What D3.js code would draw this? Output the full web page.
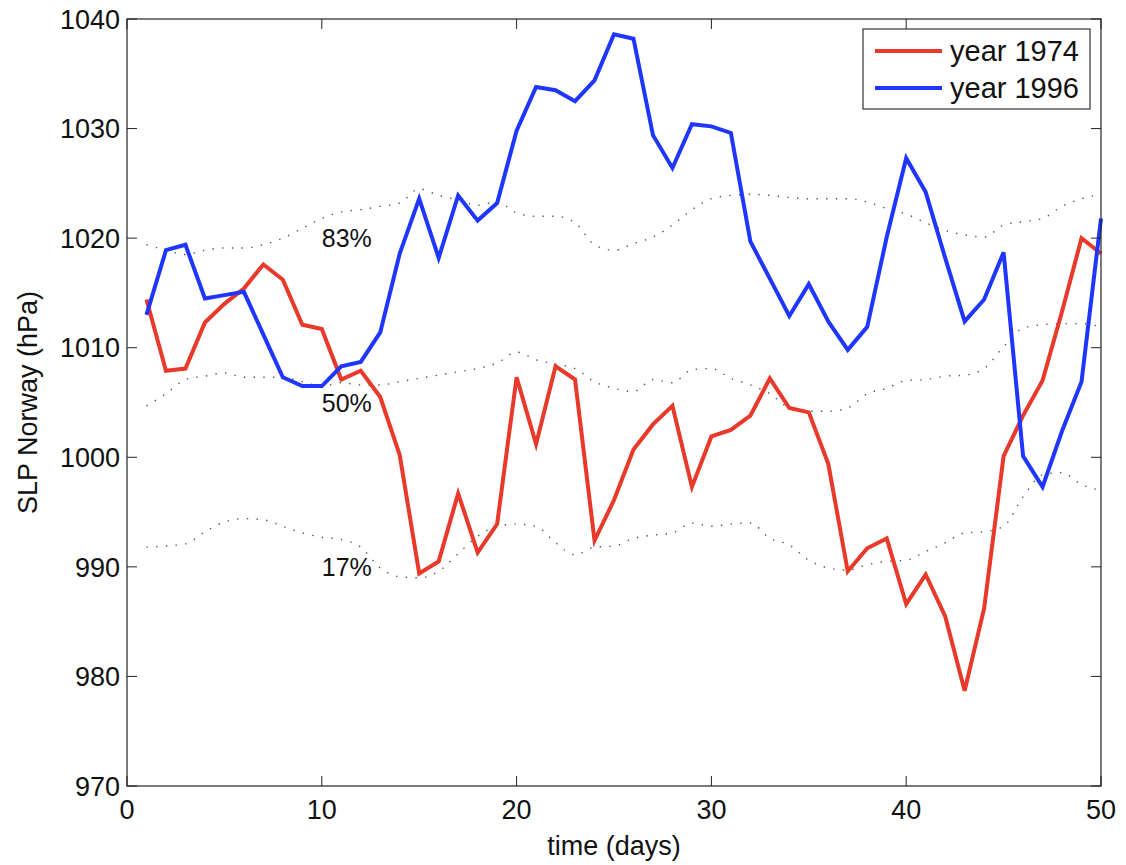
<!DOCTYPE html>
<html>
<head>
<meta charset="utf-8">
<script src="https://cdn.jsdelivr.net/npm/d3@7"></script>
<style>
  body { margin: 0; background: #fff; }
  svg { display: block; font-family: "Liberation Sans", Arial, Helvetica, sans-serif; }
</style>
</head>
<body>
<svg id="chart" width="1126" height="865"></svg>
<script>
const days = d3.range(1, 51);
const slp1974 = [1014.4,1007.9,1008.1,1012.3,1014.0,1015.4,1017.6,1016.2,1012.1,1011.7,
  1007.1,1007.9,1005.5,1000.2,989.4,990.5,996.7,991.3,993.9,1007.3,
  1001.2,1008.3,1007.1,992.4,996.1,1000.7,1003.0,1004.7,997.3,1001.9,
  1002.5,1003.8,1007.2,1004.5,1004.1,999.4,989.6,991.7,992.6,986.6,
  989.3,985.5,978.7,986.2,1000.1,1003.8,1007.0,1013.3,1020.0,1018.6];
const slp1996 = [1013.0,1018.9,1019.4,1014.5,1014.8,1015.1,1011.2,1007.3,1006.5,1006.5,
  1008.3,1008.7,1011.4,1018.6,1023.6,1018.2,1023.9,1021.6,1023.2,1029.8,
  1033.8,1033.5,1032.5,1034.4,1038.6,1038.2,1029.4,1026.4,1030.4,1030.2,
  1029.6,1019.7,1016.3,1012.9,1015.8,1012.4,1009.8,1011.9,1020.1,1027.3,
  1024.2,1018.2,1012.4,1014.4,1018.7,1000.1,997.3,1002.4,1006.9,1021.8];
const p83 = [1019.4,1018.9,1018.5,1018.9,1019.1,1019.1,1019.4,1020.0,1020.9,1021.8,
  1022.4,1022.6,1022.9,1023.2,1024.5,1023.9,1023.5,1023.0,1023.3,1022.3,
  1022.0,1022.0,1021.4,1019.4,1018.9,1019.5,1020.1,1021.2,1022.6,1023.6,
  1023.9,1024.0,1023.9,1023.7,1023.6,1023.6,1023.6,1023.3,1022.7,1022.2,
  1021.4,1020.7,1020.3,1020.1,1021.2,1021.5,1021.8,1022.9,1023.6,1024.0];
const p50 = [1004.7,1005.8,1007.1,1007.4,1007.7,1007.3,1007.3,1007.3,1006.9,1006.5,
  1006.8,1006.6,1006.6,1006.9,1007.2,1007.5,1007.8,1008.1,1008.6,1009.6,
  1008.9,1008.5,1008.1,1006.9,1006.3,1006.0,1007.1,1006.8,1008.0,1008.1,
  1007.2,1006.6,1005.8,1004.5,1004.2,1004.2,1004.5,1005.8,1006.3,1007.0,
  1007.1,1007.4,1007.5,1008.1,1010.1,1011.8,1012.1,1012.2,1012.2,1011.9];
const p17 = [991.8,991.9,992.1,993.2,994.1,994.4,994.3,993.7,993.1,992.7,
  992.5,991.8,989.9,989.1,989.0,989.6,991.2,992.8,993.7,993.9,
  993.7,992.2,991.1,991.8,991.9,992.6,992.9,993.1,994.0,993.7,
  993.9,994.0,992.6,992.0,990.6,989.9,989.7,990.2,990.5,990.6,
  991.4,992.2,993.1,993.2,993.7,996.4,998.4,998.6,997.5,997.0];
const xTicks = [0, 10, 20, 30, 40, 50];
const yTicks = [970, 980, 990, 1000, 1010, 1020, 1030, 1040];
const seriesNames = ["year 1974", "year 1996"];
const seriesColors = ["#e8392a", "#1f36ff"];
const pctLabels = ["83%", "50%", "17%"];
const pctLabelPos = [[10, 1020], [10, 1005], [10, 990]];

const svg = d3.select("#chart");
const L = 127, R = 1101, T = 19, B = 786;
const x = d3.scaleLinear().domain([0, 50]).range([L, R]);
const y = d3.scaleLinear().domain([970, 1040]).range([B, T]);

// percentile dotted curves
const smooth = d3.line().x((d, i) => x(days[i])).y(d => y(d)).curve(d3.curveMonotoneX);
[p83, p50, p17].forEach(arr => {
  svg.append("path").attr("d", smooth(arr))
    .attr("fill", "none").attr("stroke", "#555").attr("stroke-width", 1.4)
    .attr("stroke-dasharray", "1.4 8.3");
});
pctLabels.forEach((t, i) => {
  svg.append("text").attr("x", x(pctLabelPos[i][0])).attr("y", y(pctLabelPos[i][1]))
    .attr("dy", "0.36em").attr("font-size", 25).attr("fill", "#111").text(t);
});

// data lines
const lin = d3.line().x((d, i) => x(days[i])).y(d => y(d));
[slp1974, slp1996].forEach((arr, k) => {
  svg.append("path").attr("d", lin(arr))
    .attr("fill", "none").attr("stroke", seriesColors[k]).attr("stroke-width", 4)
    .attr("stroke-linejoin", "miter");
});

// frame and ticks
const fg = svg.append("g");
fg.append("rect").attr("x", L).attr("y", T).attr("width", R - L).attr("height", B - T)
  .attr("fill", "none").attr("stroke", "#222").attr("stroke-width", 1.2);
const tl = 10;
xTicks.forEach(v => {
  fg.append("line").attr("x1", x(v)).attr("x2", x(v)).attr("y1", B).attr("y2", B - tl).attr("stroke", "#222");
  fg.append("line").attr("x1", x(v)).attr("x2", x(v)).attr("y1", T).attr("y2", T + tl).attr("stroke", "#222");
  fg.append("text").attr("x", x(v)).attr("y", B + 23).attr("dy", "0.36em")
    .attr("text-anchor", "middle").attr("font-size", 27).attr("fill", "#111").text(v);
});
yTicks.forEach(v => {
  fg.append("line").attr("x1", L).attr("x2", L + tl).attr("y1", y(v)).attr("y2", y(v)).attr("stroke", "#222");
  fg.append("line").attr("x1", R).attr("x2", R - tl).attr("y1", y(v)).attr("y2", y(v)).attr("stroke", "#222");
  fg.append("text").attr("x", L - 7).attr("y", y(v)).attr("dy", "0.36em")
    .attr("text-anchor", "end").attr("font-size", 27).attr("fill", "#111").text(v);
});

// axis labels
svg.append("text").attr("x", (L + R) / 2).attr("y", 845).attr("dy", "0.36em")
  .attr("text-anchor", "middle").attr("font-size", 27).attr("fill", "#111").text("time (days)");
svg.append("text").attr("transform", `translate(27,${(T + B) / 2}) rotate(-90)`)
  .attr("dy", "0.36em").attr("text-anchor", "middle").attr("font-size", 27).attr("fill", "#111")
  .text("SLP Norway (hPa)");

// legend
const lg = svg.append("g");
lg.append("rect").attr("x", 863).attr("y", 29).attr("width", 227).attr("height", 80)
  .attr("fill", "#fff").attr("stroke", "#333").attr("stroke-width", 1.2);
seriesNames.forEach((n, i) => {
  const ly = 51 + i * 37;
  lg.append("line").attr("x1", 875).attr("x2", 942).attr("y1", ly).attr("y2", ly)
    .attr("stroke", seriesColors[i]).attr("stroke-width", 4);
  lg.append("text").attr("x", 950).attr("y", ly).attr("dy", "0.36em")
    .attr("font-size", 29).attr("fill", "#111").text(n);
});
</script>
</body>
</html>
